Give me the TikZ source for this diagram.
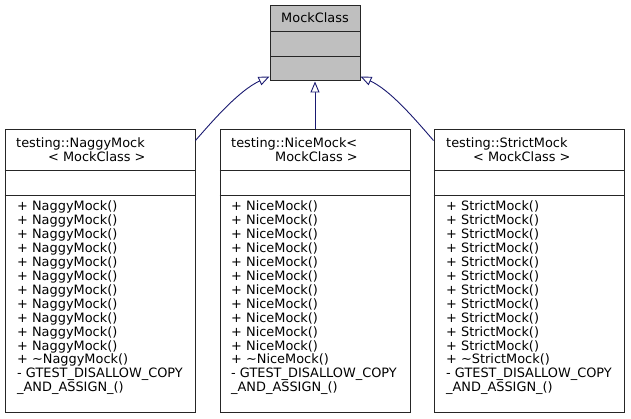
\documentclass[tikz,border=0pt]{standalone}
\usepackage{fontspec}
\setmainfont{DejaVu Sans}
\usetikzlibrary{arrows.meta,calc}
\definecolor{edgeblue}{HTML}{191970}
\definecolor{boxgray}{HTML}{BFBFBF}
\begin{document}
\begin{tikzpicture}[x=1pt,y=-1pt,
  umlbox/.style={draw=black!85, line width=1pt, fill=white, inner sep=0pt, rectangle, minimum width=190pt, minimum height=282pt},
  sepline/.style={draw=black!85, line width=1pt},
  txt/.style={anchor=base west, inner sep=0pt, font=\fontsize{12.9}{14}\selectfont},
  ctxt/.style={anchor=base, inner sep=0pt, font=\fontsize{12.9}{14}\selectfont},
  inh/.style={draw=edgeblue, line width=0.9pt, -{Triangle[open, length=11pt, width=9pt, fill=white]}}]
\useasboundingbox (0,0) rectangle (631,419);
% base class
\node[umlbox, fill=boxgray, minimum width=90pt, minimum height=75pt] (mock) at (315,43.5) {};
\draw[sepline] (270,31.5) -- (360,31.5);
\draw[sepline] (270,56.5) -- (360,56.5);
\node[ctxt] (mocktitle) at (315,22.5) {MockClass};
% derived boxes
\node[umlbox] (naggy) at (100,271) {};
\node[umlbox] (nice) at (315,271) {};
\node[umlbox] (strict) at (529,271) {};
\foreach \b in {naggy,nice,strict}{
  \draw[sepline] ($(\b.north west)+(0,41)$) -- ($(\b.north east)+(0,41)$);
  \draw[sepline] ($(\b.north west)+(0,66)$) -- ($(\b.north east)+(0,66)$);
}
% titles
\node[txt] (t1a) at (16,148) {testing::NaggyMock};
\node[txt] (t1b) at (48,162) {< MockClass >};
\node[txt] (t2a) at (231,148) {testing::NiceMock<};
\node[txt] (t2b) at (275,162) {MockClass >};
\node[txt] (t3a) at (446,148) {testing::StrictMock};
\node[txt] (t3b) at (473,162) {< MockClass >};
% members
\foreach \x/\nm/\id in {17/NaggyMock/a, 231/NiceMock/b, 446/StrictMock/c}{
  \foreach \i in {0,...,10}{
    \node[txt] (m\id\i) at (\x,211+13.9*\i) {+ \nm()};
  }
  \node[txt] (m\id d) at (\x,211+13.9*11) {+ \textasciitilde\nm()};
  \node[txt] (m\id e) at (\x,211+13.9*12) {- GTEST\_DISALLOW\_COPY};
  \node[txt] (m\id f) at (\x,211+13.9*13) {\_AND\_ASSIGN\_()};
}
% connectors
\coordinate (naggyend) at ($(naggy.north east)+(0,11)$);
\coordinate (strictend) at ($(strict.north west)+(0,11)$);
\coordinate (mockleft) at ($(mock.south west)+(0,-5)$);
\coordinate (mockright) at ($(mock.south east)+(0,-5)$);
\draw[inh] (naggyend) .. controls (215,118) and (240,90) .. (mockleft);
\draw[inh] (nice.north) -- (mock.south);
\draw[inh] (strictend) .. controls (414,118) and (390,90) .. (mockright);
\end{tikzpicture}
\end{document}
